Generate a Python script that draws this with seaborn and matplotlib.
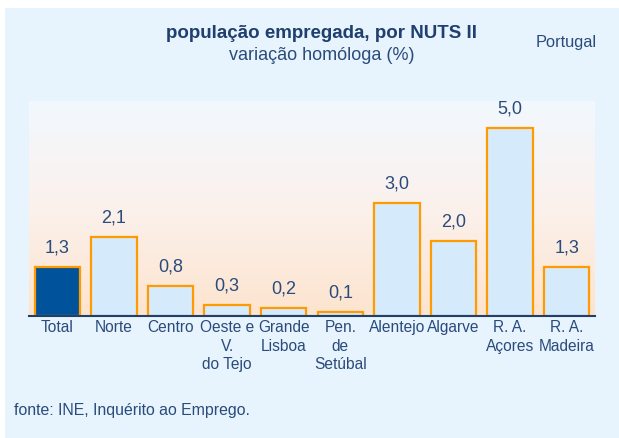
import numpy as np
import pandas as pd
import seaborn as sns
import matplotlib.pyplot as plt
from matplotlib.patches import Rectangle
from matplotlib.colors import LinearSegmentedColormap

regions = ['Total', 'Norte', 'Centro', 'Oeste e\nV.\ndo Tejo', 'Grande\nLisboa',
           'Pen.\nde\nSetúbal', 'Alentejo', 'Algarve', 'R. A.\nAçores', 'R. A.\nMadeira']
variation = [1.3, 2.1, 0.8, 0.3, 0.2, 0.1, 3.0, 2.0, 5.0, 1.3]

navy = '#2A4B7C'
orange = '#FF9B00'
bar_colors = ['#00539B'] + ['#D5EBFB'] * 9

sns.set_style('white')
plt.rcParams['font.family'] = ['Liberation Sans', 'DejaVu Sans']

df = pd.DataFrame({'region': regions, 'value': variation})

fig = plt.figure(figsize=(6.19, 4.38), dpi=100)
fig.patch.set_facecolor('white')
# light blue panel behind everything
fig.patches.append(Rectangle((5 / 619, 0), 1, (438 - 8) / 438, transform=fig.transFigure,
                             facecolor='#E7F4FD', edgecolor='none', zorder=-1))

ax = fig.add_axes([29 / 619, 122 / 438, 566 / 619, 215 / 438])
ax.set_facecolor('none')

# gradient behind the bars
cmap = LinearSegmentedColormap.from_list('grad', ['#FDE4CE', '#FBF1EC', '#F2F8FE'])
grad = np.linspace(0, 1, 256).reshape(-1, 1)
ax.imshow(grad, cmap=cmap, aspect='auto', extent=[0, 1, 0, 1], transform=ax.transAxes,
          origin='lower', zorder=0)

sns.barplot(data=df, x='region', y='value', hue='region', palette=bar_colors,
            legend=False, width=0.8, saturation=1, edgecolor=orange, linewidth=1.6,
            ax=ax, zorder=2)

for i, v in enumerate(variation):
    ax.text(i, v + 0.28, f'{v:.1f}'.replace('.', ','), ha='center', va='bottom',
            fontsize=13, color=navy)

ax.set_xlim(-0.5, 9.5)
ax.set_ylim(0, 5.72)
ax.set_xlabel('')
ax.set_ylabel('')
ax.set_yticks([])
ax.tick_params(axis='x', length=0, pad=3, labelsize=11.2, labelcolor=navy)
for lbl in ax.get_xticklabels():
    lbl.set_linespacing(1.3)
for s in ['top', 'right', 'left']:
    ax.spines[s].set_visible(False)
ax.spines['bottom'].set_color('#1F3F6E')
ax.spines['bottom'].set_linewidth(1.5)
ax.spines['bottom'].set_zorder(3)

fig.text(321 / 619, 1 - 33 / 438, 'população empregada, por NUTS II', ha='center', va='center',
         fontsize=13.5, fontweight='bold', color='#1F3F6E')
fig.text(322 / 619, 1 - 55 / 438, 'variação homóloga (%)', ha='center', va='center',
         fontsize=13, color=navy)
fig.text(566 / 619, 1 - 42 / 438, 'Portugal', ha='center', va='center',
         fontsize=11.8, color=navy)
fig.text(14 / 619, 1 - 410 / 438, 'fonte: INE, Inquérito ao Emprego.', ha='left', va='center',
         fontsize=11.4, color=navy)

fig.savefig('out.png', dpi=100)
